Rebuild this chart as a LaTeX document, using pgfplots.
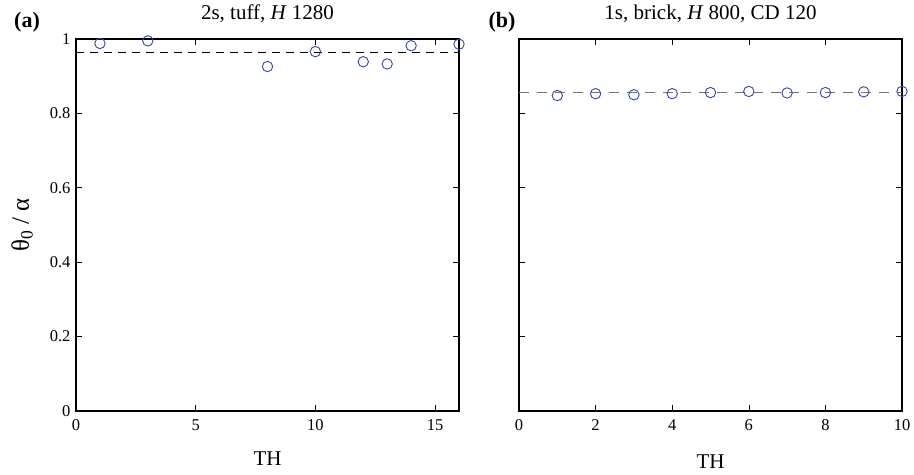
\documentclass[border=0pt]{standalone}
\usepackage{fontspec}
\setmainfont{Liberation Serif}
\usepackage{pgfplots}
\pgfplotsset{compat=1.18}
\definecolor{mblue}{RGB}{50,70,175}
\begin{document}
\begin{tikzpicture}
\path[use as bounding box] (0bp,0bp) rectangle (914bp,475bp);
\pgfplotsset{
  every axis/.style={
    scale only axis, height=372bp, width=383bp, ymin=0, ymax=1,
    axis line style={line width=1.2bp},
    tick style={line width=0.6bp, black},
    major tick length=6bp,
    tick align=inside,
    ytick={0,0.2,0.4,0.6,0.8,1},
    /pgf/number format/assume math mode=true,
    tick label style={font=\fontsize{16.5bp}{19bp}\selectfont},
    xticklabel style={yshift=-5bp},
    yticklabel style={xshift=-2bp},
    label style={font=\fontsize{21bp}{24bp}\selectfont},
    title style={font=\fontsize{21bp}{24bp}\selectfont, at={(axis description cs:0.5,1)}, anchor=base, yshift=14bp},
    ylabel style={at={(axis description cs:-0.1406,0.5)}, anchor=center, font=\fontsize{25bp}{28bp}\selectfont},
    clip mode=individual,
  },
  mk/.style={only marks, mark=o, mark size=5.2bp, mark options={mblue, line width=0.9bp}},
}
\begin{axis}[at={(76bp,64bp)}, anchor=south west,
  xmin=0, xmax=16, xtick={0,5,10,15},
  yticklabels={0,0.2,0.4,0.6,0.8,1},
  xlabel={TH}, xlabel style={at={(axis description cs:0.5,-0.128)}, anchor=center},
  ylabel={θ\textsubscript{0} / α},
  title={2s, tuff, \textit{H} 1280}]
\addplot[black, dash pattern=on 8bp off 6bp, line width=0.8bp] coordinates {(0,0.965) (16,0.965)};
\addplot[mk] coordinates {(1,0.988) (3,0.995) (8,0.926) (10,0.966) (12,0.939) (13,0.933) (14,0.982) (16,0.986)};
\end{axis}
\begin{axis}[at={(519bp,64bp)}, anchor=south west,
  xmin=0, xmax=10, xtick={0,2,4,6,8,10},
  yticklabels={},
  xlabel={TH}, xlabel style={at={(axis description cs:0.5,-0.137)}, anchor=center},
  title={1s, brick, \textit{H} 800, CD 120}]
\addplot[black!55, dash pattern=on 10bp off 8bp, line width=1.4bp] coordinates {(0,0.856) (10,0.856)};
\addplot[mk] coordinates {(1,0.848) (2,0.853) (3,0.850) (4,0.853) (5,0.856) (6,0.859) (7,0.855) (8,0.856) (9,0.858) (10,0.859)};
\end{axis}
\node[font=\bfseries\fontsize{22bp}{24bp}\selectfont, anchor=base] at (27bp,447bp) {(a)};
\node[font=\bfseries\fontsize{22bp}{24bp}\selectfont, anchor=base] at (502bp,447bp) {(b)};
\end{tikzpicture}
\end{document}
